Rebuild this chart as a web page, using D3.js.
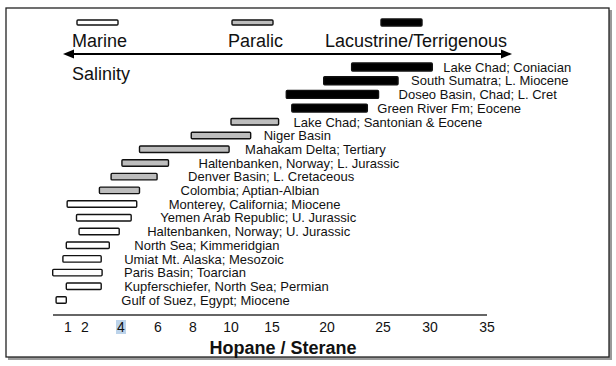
<!DOCTYPE html>
<html>
<head>
<meta charset="utf-8">
<script src="https://cdn.jsdelivr.net/npm/d3@7"></script>
<style>
	body { margin: 0; background: #fff; }
	text { font-family: "Liberation Sans", Arial, sans-serif; }
</style>
</head>
<body>
<svg id="svg-port" width="616" height="366"></svg>
<script>
// basins, top to bottom
var basins = [
	"Lake Chad;  Coniacian",
	"South Sumatra; L. Miocene",
	"Doseo Basin, Chad; L. Cret",
	"Green River Fm; Eocene",
	"Lake Chad; Santonian & Eocene",
	"Niger Basin",
	"Mahakam Delta; Tertiary",
	"Haltenbanken, Norway; L. Jurassic",
	"Denver Basin; L. Cretaceous",
	"Colombia; Aptian-Albian",
	"Monterey, California; Miocene",
	"Yemen Arab Republic; U. Jurassic",
	"Haltenbanken, Norway; U. Jurassic",
	"North Sea; Kimmeridgian",
	"Umiat Mt. Alaska; Mesozoic",
	"Paris Basin;  Toarcian",
	"Kupferschiefer, North Sea; Permian",
	"Gulf of Suez, Egypt; Miocene"
];
// hopane/sterane range (min, max)
var lowValues  = [22.2, 19.7, 16.3, 16.8, 10.0, 7.9, 5.0, 4.05, 3.45, 2.8, 0.95, 1.5, 1.65, 0.9, 0.7, 0.1, 0.9, 0.3];
var highValues = [30.2, 26.6, 24.6, 23.6, 15.6, 12.4, 9.9, 6.6, 5.95, 5.0, 4.85, 4.55, 3.9, 3.35, 2.9, 2.95, 2.9, 0.9];
var environments = ["lacustrine", "lacustrine", "lacustrine", "lacustrine", "paralic", "paralic", "paralic", "paralic", "paralic", "paralic",
	"marine", "marine", "marine", "marine", "marine", "marine", "marine", "marine"];

var tickValues = [1, 2, 4, 6, 8, 10, 15, 20, 25, 30, 35];

var legendKeys = ["marine", "paralic", "lacustrine"];
var legendLabels = ["Marine", "Paralic", "Lacustrine/Terrigenous"];

// layout: space between a bar's end and its label (px)
var labelGaps = [11, 13, 20, 10, 15, 13, 16, 30, 31, 41, 32, 29, 28, 25, 23, 22, 23, 55];

var fills = {marine: "#ffffff", paralic: "#bdbdbd", lacustrine: "#000000"};

var svg = d3.select("#svg-port");

// frame with a soft shadow
svg.append("rect").attr("x", 8).attr("y", 10).attr("width", 604).attr("height", 350).attr("fill", "#9a9a9a");
svg.append("rect").attr("x", 6).attr("y", 8).attr("width", 603).attr("height", 349)
	.attr("fill", "#fff").attr("stroke", "#222").attr("stroke-width", 1.3);

// the axis is not linear: each labelled value sits at its own place
var x = d3.scaleLinear()
	.domain(tickValues)
	.range([68, 85, 121, 158, 193, 231, 272, 327, 383, 430, 487]);

var y = d3.scalePoint()
	.domain(basins)
	.range([67, 300]);

var rows = basins.map(function (b, i) {
	return {name: b, lo: lowValues[i], hi: highValues[i], env: environments[i], gap: labelGaps[i]};
});

var barGroup = svg.append("g").attr("class", "bars");
rows.forEach(function (d) {
	var h = d.env === "lacustrine" ? 8 : 6.5;
	barGroup.append("rect")
		.attr("x", x(d.lo))
		.attr("y", y(d.name) - h / 2)
		.attr("width", x(d.hi) - x(d.lo))
		.attr("height", h)
		.attr("rx", 1)
		.attr("fill", fills[d.env])
		.attr("stroke", "#111")
		.attr("stroke-width", 1.4);
	barGroup.append("text")
		.attr("x", x(d.hi) + d.gap)
		.attr("y", y(d.name))
		.attr("dy", "0.36em")
		.attr("font-size", 13)
		.attr("fill", "#111")
		.text(d.name);
});

// legend
var legendX = [77, 232, 381];
var legendTextX = [72, 228, 325];
legendKeys.forEach(function (k, i) {
	svg.append("rect")
		.attr("x", legendX[i]).attr("y", k === "lacustrine" ? 19 : 20)
		.attr("width", 41).attr("height", k === "lacustrine" ? 7 : 5)
		.attr("rx", 1)
		.attr("fill", fills[k]).attr("stroke", "#111").attr("stroke-width", 1.4);
	svg.append("text")
		.attr("x", legendTextX[i]).attr("y", 47)
		.attr("font-size", 18).attr("fill", "#111")
		.text(legendLabels[i]);
});

// salinity arrow
svg.append("line").attr("x1", 70).attr("x2", 505).attr("y1", 54).attr("y2", 54)
	.attr("stroke", "#000").attr("stroke-width", 2);
svg.append("path").attr("d", "M63,54 L74,49.5 L74,58.5 Z").attr("fill", "#000");
svg.append("path").attr("d", "M512,54 L501,49.5 L501,58.5 Z").attr("fill", "#000");
svg.append("text").attr("x", 72).attr("y", 80).attr("font-size", 18).attr("fill", "#111").text("Salinity");

// x axis
svg.append("line").attr("x1", 53).attr("x2", 487).attr("y1", 315).attr("y2", 315)
	.attr("stroke", "#333").attr("stroke-width", 1.6);
// the "4" label carries a selection highlight in the original
svg.append("rect").attr("x", x(4) - 5).attr("y", 320).attr("width", 10).attr("height", 14).attr("fill", "#bcd3ea");
svg.append("g").selectAll("text")
	.data(tickValues)
	.enter().append("text")
	.attr("x", function (d) { return x(d); })
	.attr("y", 332)
	.attr("text-anchor", "middle")
	.attr("font-size", 14)
	.attr("fill", "#111")
	.text(function (d) { return d; });

svg.append("text").attr("x", 283).attr("y", 354)
	.attr("text-anchor", "middle").attr("font-size", 18).attr("font-weight", "bold").attr("fill", "#111")
	.text("Hopane / Sterane");
</script>
</body>
</html>
